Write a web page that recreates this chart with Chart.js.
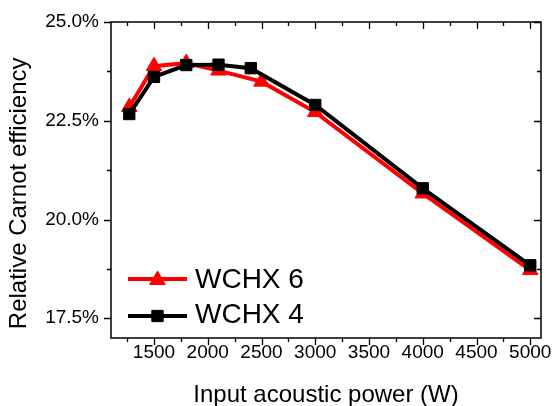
<!DOCTYPE html>
<html><head><meta charset="utf-8">
<script src="https://cdn.jsdelivr.net/npm/chart.js@4/dist/chart.umd.min.js"></script>
<style>html,body{margin:0;padding:0;background:#fff}#wrap{width:555px;height:406px}</style>
</head><body><div id="wrap"><canvas id="c" width="555" height="406"></canvas></div>
<script>
// Data
const seriesNames = ['WCHX 6', 'WCHX 4'];
const powerWCHX6 = [1270, 1500, 1800, 2100, 2500, 3000, 4000, 5000];
const effWCHX6   = [22.85, 23.88, 23.96, 23.77, 23.49, 22.72, 20.66, 18.72];
const powerWCHX4 = [1270, 1500, 1800, 2100, 2400, 3000, 4000, 5000];
const effWCHX4   = [22.67, 23.61, 23.91, 23.92, 23.83, 22.90, 20.79, 18.84];
const xTickLabels = [1500, 2000, 2500, 3000, 3500, 4000, 4500, 5000];
const yTickLabels = [17.5, 20.0, 22.5, 25.0];
const xMinorStep = 250, yMinorStep = 1.25;

const FONT = "'Liberation Sans', Arial, sans-serif";
const RED = '#ff0000', BLACK = '#000000';

const toPts = (xs, ys) => xs.map((x, i) => ({x: x, y: ys[i]}));

function drawMarker(ctx, style, cx, cy, r, color) {
  ctx.save();
  ctx.fillStyle = color; ctx.strokeStyle = color; ctx.lineWidth = 1;
  ctx.beginPath();
  if (style === 'triangle') {
    ctx.moveTo(cx, cy - r);
    ctx.lineTo(cx + r * Math.sin(Math.PI / 3), cy + r * 0.5);
    ctx.lineTo(cx - r * Math.sin(Math.PI / 3), cy + r * 0.5);
    ctx.closePath();
  } else {
    const s = Math.SQRT1_2 * r;
    ctx.rect(cx - s, cy - s, 2 * s, 2 * s);
  }
  ctx.fill(); ctx.stroke();
  ctx.restore();
}

const frameTicks = {
  id: 'frameTicks',
  afterDraw(chart) {
    const {ctx, chartArea: a, scales: {x, y}} = chart;
    ctx.save();
    ctx.strokeStyle = '#000';
    ctx.lineWidth = 1.5;
    ctx.strokeRect(a.left, a.top, a.right - a.left, a.bottom - a.top);
    ctx.lineWidth = 1.3;
    ctx.beginPath();
    const xFirst = Math.ceil(x.min / xMinorStep) * xMinorStep;
    for (let v = xFirst; v <= x.max; v += xMinorStep) {
      const px = Math.round(x.getPixelForValue(v)) + 0.5;
      const L = xTickLabels.includes(v) ? 7 : 4;
      ctx.moveTo(px, a.bottom); ctx.lineTo(px, a.bottom + L);
      ctx.moveTo(px, a.top); ctx.lineTo(px, a.top + L);
    }
    const yFirst = Math.ceil(y.min / yMinorStep) * yMinorStep;
    for (let v = yFirst; v <= y.max + 1e-9; v += yMinorStep) {
      const py = Math.round(y.getPixelForValue(v)) + 0.5;
      const major = yTickLabels.some(t => Math.abs(t - v) < 1e-6);
      const L = major ? 7 : 4;
      ctx.moveTo(a.left, py); ctx.lineTo(a.left - L, py);
      ctx.moveTo(a.right, py); ctx.lineTo(a.right - L, py);
    }
    ctx.stroke();

    // legend (inside the plot, lower left)
    const items = [
      {name: seriesNames[0], color: RED, style: 'triangle', r: 9},
      {name: seriesNames[1], color: BLACK, style: 'rect', r: 8}
    ];
    const lx0 = a.left + 17, lx1 = a.left + 76, tx = a.left + 84;
    const rows = [279, 316];
    items.forEach((it, i) => {
      const ly = rows[i];
      ctx.strokeStyle = it.color; ctx.lineWidth = 4;
      ctx.beginPath(); ctx.moveTo(lx0, ly); ctx.lineTo(lx1, ly); ctx.stroke();
      drawMarker(ctx, it.style, (lx0 + lx1) / 2, ly + (it.style === 'triangle' ? 1 : 0), it.r, it.color);
      ctx.fillStyle = '#000';
      ctx.font = '28px ' + FONT;
      ctx.textAlign = 'left'; ctx.textBaseline = 'alphabetic';
      ctx.fillText(it.name, tx, ly + 9 - i * 2);
    });
    ctx.restore();
  }
};

new Chart(document.getElementById('c'), {
  type: 'line',
  data: {
    datasets: [
      {
        label: seriesNames[0], data: toPts(powerWCHX6, effWCHX6),
        borderColor: RED, backgroundColor: RED, borderWidth: 4,
        pointStyle: 'triangle', pointRadius: 9, pointBorderWidth: 1,
        tension: 0, order: 1
      },
      {
        label: seriesNames[1], data: toPts(powerWCHX4, effWCHX4),
        borderColor: BLACK, backgroundColor: BLACK, borderWidth: 4,
        pointStyle: 'rect', pointRadius: 8, pointBorderWidth: 1,
        tension: 0, order: 0
      }
    ]
  },
  options: {
    responsive: false, animation: false, devicePixelRatio: 1,
    layout: {padding: {top: 22, right: 14, left: 0, bottom: 0}},
    plugins: {legend: {display: false}, tooltip: {enabled: false}},
    scales: {
      x: {
        type: 'linear', min: 1100, max: 5100,
        afterBuildTicks: s => { s.ticks = xTickLabels.map(v => ({value: v})); },
        afterFit: s => { s.height = 68; s.paddingLeft = 0; s.paddingRight = 0; },
        grid: {display: false, drawTicks: false},
        border: {display: false},
        ticks: {color: '#000', font: {family: FONT, size: 19}, padding: 3,
                maxRotation: 0, autoSkip: false, callback: v => String(v)},
        title: {display: true, text: 'Input acoustic power (W)', color: '#000',
                font: {family: FONT, size: 24, lineHeight: 0.9}, padding: {top: 0, bottom: 0}}
      },
      y: {
        type: 'linear', min: 17.0, max: 25.0,
        afterBuildTicks: s => { s.ticks = yTickLabels.map(v => ({value: v})); },
        afterFit: s => { s.width = 111; s.paddingTop = 0; s.paddingBottom = 0; },
        grid: {display: false, drawTicks: false},
        border: {display: false},
        ticks: {color: '#000', font: {family: FONT, size: 19}, padding: 12,
                callback: v => Number(v).toFixed(1) + '%'},
        title: {display: true, text: 'Relative Carnot efficiency    ', color: '#000',
                font: {family: FONT, size: 24}, padding: {top: 5, bottom: 0}}
      }
    }
  },
  plugins: [frameTicks]
});
</script>
</body></html>
